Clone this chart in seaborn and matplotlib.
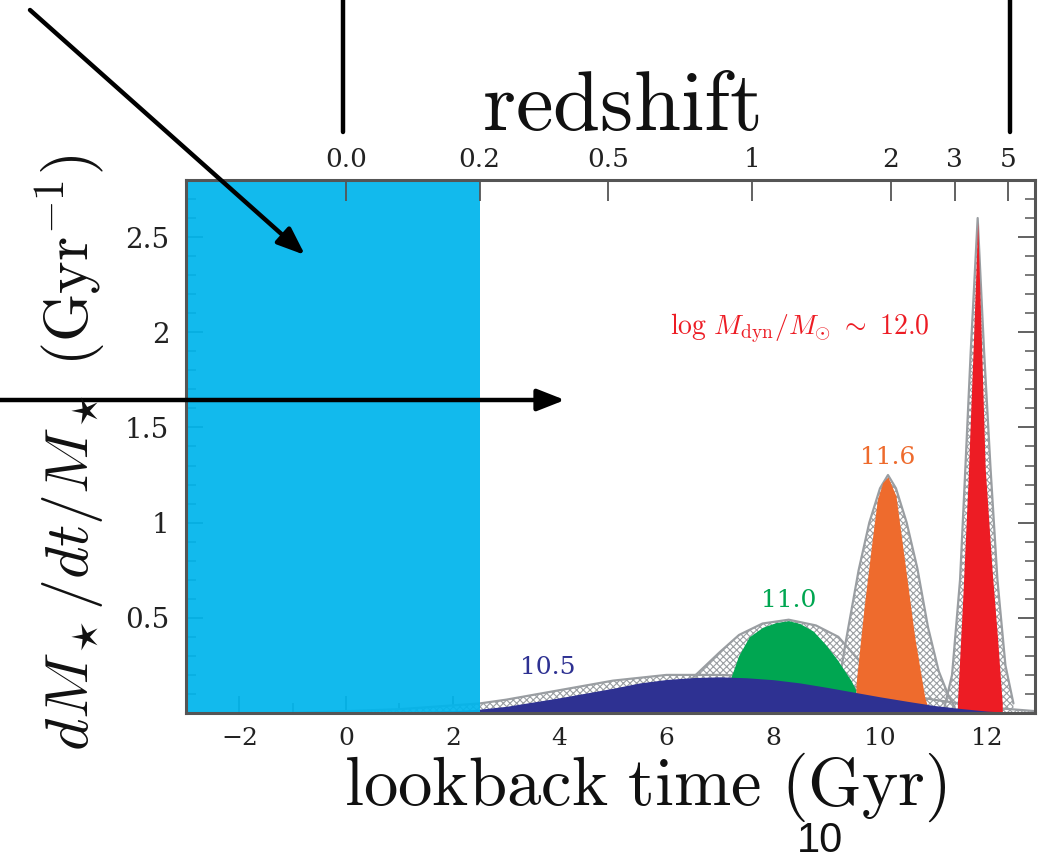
import numpy as np
import pandas as pd
import matplotlib
matplotlib.use("Agg")
import matplotlib.pyplot as plt
import seaborn as sns
from matplotlib.lines import Line2D

# ---------------- data ----------------
blue_x = [0, 1, 2, 2.5, 3, 4, 5, 5.5, 6, 6.5, 7, 7.5, 8, 8.5, 9, 9.5, 10, 10.5, 11, 11.5, 12, 12.5, 12.9]
blue_y = [0.0, 0.005, 0.012, 0.02, 0.035, 0.08, 0.13, 0.158, 0.176, 0.186, 0.19, 0.185, 0.175, 0.158, 0.135, 0.11, 0.085, 0.062, 0.04, 0.024, 0.01, 0.003, 0.0]
blue_env_x = [-1, 0, 1, 2, 2.5, 3, 4, 5, 6, 7, 8, 9, 10, 11, 12, 12.9]
blue_env_y = [0.0, 0.01, 0.02, 0.04, 0.05, 0.07, 0.12, 0.17, 0.2, 0.2, 0.19, 0.16, 0.12, 0.07, 0.03, 0.01]

green_x = [7.2, 7.35, 7.55, 7.8, 8.05, 8.29, 8.5, 8.75, 8.98, 9.2, 9.46, 9.55]
green_y = [0.18, 0.3, 0.4, 0.45, 0.475, 0.485, 0.47, 0.43, 0.36, 0.28, 0.17, 0.12]
green_env_x = [6.2, 6.55, 7.0, 7.36, 7.8, 8.29, 8.8, 9.22, 9.72, 10.2, 10.84, 11.3]
green_env_y = [0.1, 0.2, 0.32, 0.41, 0.47, 0.49, 0.46, 0.4, 0.24, 0.1, 0.03, 0.0]

orange_x = [9.55, 9.7, 9.85, 9.95, 10.05, 10.15, 10.3, 10.48, 10.65, 10.84, 10.9]
orange_y = [0.15, 0.55, 0.9, 1.12, 1.21, 1.24, 1.14, 0.76, 0.4, 0.08, 0.03]
orange_env_x = [9.2, 9.35, 9.6, 9.8, 10.0, 10.15, 10.3, 10.5, 10.7, 10.9, 11.1, 11.27, 11.4]
orange_env_y = [0.1, 0.36, 0.75, 1.0, 1.18, 1.25, 1.18, 1.0, 0.76, 0.45, 0.22, 0.1, 0.03]

red_x = [11.45, 11.55, 11.65, 11.75, 11.83, 11.9, 11.97, 12.1, 12.2, 12.29]
red_y = [0.05, 0.6, 1.22, 1.95, 2.58, 1.95, 1.29, 0.75, 0.4, 0.05]
red_env_x = [11.2, 11.35, 11.5, 11.6, 11.7, 11.83, 11.95, 12.07, 12.2, 12.35, 12.5]
red_env_y = [0.02, 0.2, 0.7, 1.29, 1.9, 2.6, 1.9, 1.29, 0.7, 0.25, 0.05]

mass_labels = [r"$\mathrm{log}\ M_{\rm dyn}/M_{\odot}\ \sim\ \mathrm{12.0}$", "11.6", "11.0", "10.5"]
mass_label_x = [8.5, 10.15, 8.29, 3.78]
mass_label_y = [2.02, 1.34, 0.59, 0.24]

redshift_labels = ["0.0", "0.2", "0.5", "1", "2", "3", "5"]
redshift_lookback = [0.0, 2.5, 4.9, 7.6, 10.2, 11.4, 12.4]

xtick_vals = [-2, 0, 2, 4, 6, 8, 10, 12]
ytick_vals = [0.5, 1.0, 1.5, 2.0, 2.5]
ytick_labels = ["0.5", "1", "1.5", "2", "2.5"]

present_epoch = 2.5  # shaded local-universe band edge (Gyr)

# ---------------- style ----------------
sns.set_theme(style="ticks")
plt.rcParams["font.family"] = ["DejaVu Serif", "DejaVu Sans"]
plt.rcParams["mathtext.fontset"] = "cm"
plt.rcParams["hatch.linewidth"] = 0.8

CYAN = "#00B5EC"
NAVY = "#2E3192"
GREEN = "#00A651"
ORANGE = "#EE6B2D"
RED = "#ED1C24"
GREY = "#9A9EA2"
FRAME = "#555555"
TICKTXT = "#222222"

fig = plt.figure(figsize=(10.4, 8.61), dpi=100)
ax = fig.add_axes([0.1788, 0.1719, 0.8162, 0.6191])

curves = pd.DataFrame({
    "series": ["blue", "green", "orange", "red"],
    "x": [blue_x, green_x, orange_x, red_x],
    "y": [blue_y, green_y, orange_y, red_y],
    "ex": [blue_env_x, green_env_x, orange_env_x, red_env_x],
    "ey": [blue_env_y, green_env_y, orange_env_y, red_env_y],
    "color": [NAVY, GREEN, ORANGE, RED],
})

# hatched uncertainty envelopes
for _, r in curves.iterrows():
    ax.fill_between(r["ex"], 0, r["ey"], facecolor="white", edgecolor=GREY,
                    hatch="xxxxx", linewidth=0, zorder=1)
    env = pd.DataFrame({"x": r["ex"], "y": r["ey"]})
    sns.lineplot(data=env, x="x", y="y", ax=ax, color=GREY, lw=1.6, zorder=1.5,
                 sort=False, estimator=None)

# coloured star formation histories
order = {"green": 2, "orange": 2.1, "red": 2.2, "blue": 3}
for _, r in curves.iterrows():
    ax.fill_between(r["x"], 0, r["y"], color=r["color"], linewidth=0,
                    zorder=order[r["series"]])

# cyan band
ax.axvspan(-3, present_epoch, color=CYAN, alpha=0.93, lw=0, zorder=4)

# labels on curves
label_colors = [RED, ORANGE, GREEN, NAVY]
label_sizes = [20, 18, 18, 18]
for t, x, y, c, s in zip(mass_labels, mass_label_x, mass_label_y, label_colors, label_sizes):
    ax.text(x, y, t, color=c, fontsize=s, ha="center", va="center", zorder=5,
            fontfamily="DejaVu Serif")

ax.set_xlim(-3, 12.9)
ax.set_ylim(0, 2.8)
ax.set_xlabel("")
ax.set_ylabel("")

ax.set_xticks(xtick_vals)
ax.set_xticklabels(["\u22122" if v == -2 else str(v) for v in xtick_vals])
ax.set_xticks(np.arange(-3, 13, 1), minor=True)
ax.set_yticks(ytick_vals)
ax.set_yticklabels(ytick_labels)
ax.set_yticks(np.arange(0.1, 2.8, 0.1), minor=True)
ax.tick_params(axis="both", which="major", direction="in", length=12, width=1.3,
               color=FRAME, labelsize=18, labelcolor=TICKTXT)
ax.tick_params(axis="both", which="minor", direction="in", length=7, width=1.1, color=FRAME)
ax.tick_params(axis="x", top=False, bottom=True, pad=10)
ax.tick_params(axis="y", left=True, right=True, which="both", pad=12, labelsize=20)
ax.tick_params(axis="x", which="minor", top=False)
for sp in ax.spines.values():
    sp.set_color(FRAME)
    sp.set_linewidth(2.2)
    sp.set_zorder(6)

ax2 = ax.twiny()
ax2.set_xlim(ax.get_xlim())
ax2.set_xticks(redshift_lookback)
ax2.set_xticklabels(redshift_labels)
ax2.tick_params(axis="x", direction="in", length=15, width=1.3, color=FRAME,
                labelsize=19, labelcolor=TICKTXT, pad=6)
for sp in ax2.spines.values():
    sp.set_visible(False)

# big axis titles
fig.text(0.621, 1 - 805 / 861, r"$\mathrm{lookback\ time\ (Gyr)}$", fontsize=49.5,
         ha="center", va="baseline", color="#111111")
fig.text(0.5966, 1 - 130 / 861, r"$\mathrm{redshift}$", fontsize=61,
         ha="center", va="baseline", color="#111111")
fig.text(0.068, 1 - 453 / 861, r"$dM_\star/dt/M_\star\ (\mathrm{Gyr}^{-1})$", fontsize=44.5,
         ha="center", va="center", rotation=90, color="#111111")

# slide overlay: arrows, lines, page number (figure pixels)
H = 861
arrow_kw = dict(arrowstyle="-|>,head_length=1.4,head_width=0.55", color="black", lw=3.2,
                shrinkA=0, shrinkB=0)
ax.annotate("", xy=(305, H - 255), xytext=(30, H - 10), xycoords="figure pixels",
            textcoords="figure pixels", arrowprops=arrow_kw, zorder=10,
            annotation_clip=False)
ax.annotate("", xy=(565, H - 400), xytext=(0, H - 400), xycoords="figure pixels",
            textcoords="figure pixels", arrowprops=arrow_kw, zorder=10,
            annotation_clip=False)
for xp in (343, 1010):
    fig.add_artist(Line2D([xp / 1040, xp / 1040], [1.0, 1 - 132 / H], color="black", lw=3.2))
fig.text(820 / 1040, 1 - 841 / H, "10", fontsize=30, ha="center", va="center",
         fontfamily="Liberation Sans", color="#111111")

fig.savefig("out.png", dpi=100)
